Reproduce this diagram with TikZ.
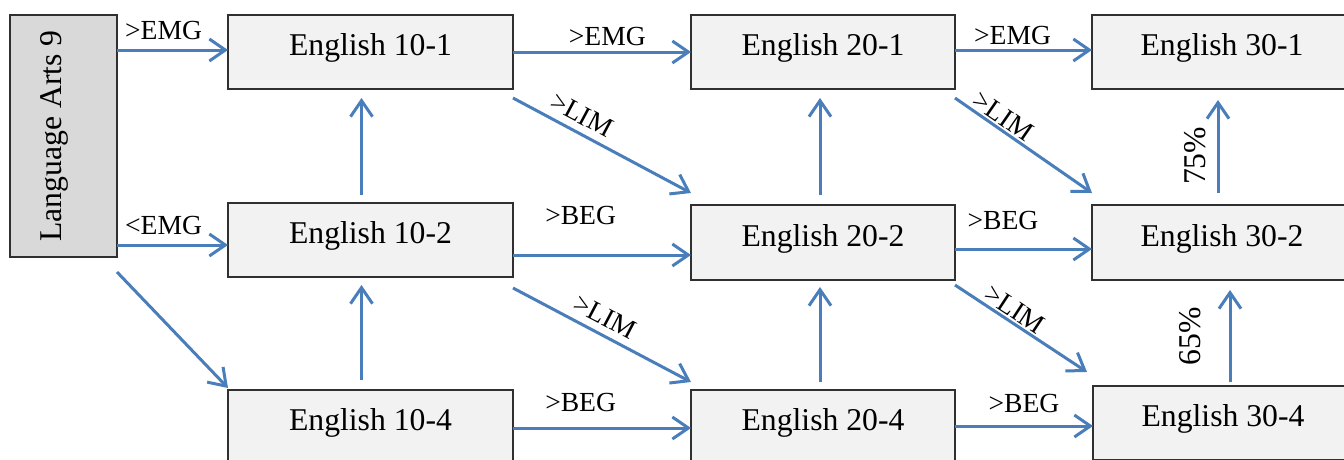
\documentclass[tikz,border=0pt]{standalone}
\usepackage{fontspec}
\setmainfont{Liberation Serif}
\usetikzlibrary{arrows.meta,calc}
\definecolor{arr}{HTML}{4A7EBB}
\definecolor{boxfill}{HTML}{F2F2F2}
\definecolor{lafill}{HTML}{D9D9D9}
\definecolor{boxline}{HTML}{303030}
\begin{document}
\begin{tikzpicture}[x=1pt,y=-1pt,
  box/.style={draw=boxline,line width=1.3pt,fill=boxfill,rectangle,anchor=north west,
    inner sep=0pt,outer sep=0pt,text height=22pt,text depth=15pt,font=\fontsize{31.7}{36}\selectfont},
  conn/.style={draw=arr,line width=3pt,-{Straight Barb[length=16pt,width=22pt,line width=3pt]}},
  lbl/.style={inner sep=0pt,font=\fontsize{27.6}{30}\selectfont},
  pct/.style={font=\fontsize{31.7}{36}\selectfont,rotate=90,anchor=south}]
\useasboundingbox (0,0) rectangle (1344,459);
\clip (0,0) rectangle (1344,459);
% nodes
\node[box,fill=lafill,minimum width=107pt,minimum height=242pt,text height=0pt,text depth=0pt] (la) at (10,15) {};
\node[rotate=90,inner sep=0pt,font=\fontsize{31.7}{36}\selectfont] (latxt) at (54,136) {Language Arts 9};
\node[box,minimum width=285pt,minimum height=74pt] (e101) at (228,15) {English 10-1};
\node[box,minimum width=264pt,minimum height=74pt] (e201) at (691,15) {English 20-1};
\node[box,minimum width=260pt,minimum height=74pt] (e301) at (1092,15) {English 30-1};
\node[box,minimum width=285pt,minimum height=74pt] (e102) at (228,203) {English 10-2};
\node[box,minimum width=264pt,minimum height=75pt] (e202) at (691,205) {English 20-2};
\node[box,minimum width=260pt,minimum height=75pt] (e302) at (1092,205) {English 30-2};
\node[box,minimum width=285pt,minimum height=74pt] (e104) at (228,390) {English 10-4};
\node[box,minimum width=264pt,minimum height=74pt] (e204) at (691,390) {English 20-4};
\node[box,minimum width=260pt,minimum height=74pt] (e304) at (1093,386) {English 30-4};
% connector start points
\coordinate (a1) at ($(la.north east)+(0,35)$);
\coordinate (a2) at ($(la.north east)+(0,230)$);
\coordinate (b1) at ($(e101.north east)+(0,37)$);
\coordinate (b2) at ($(e102.north east)+(0,52)$);
\coordinate (b3) at ($(e104.north east)+(0,38)$);
\coordinate (c1) at ($(e201.north east)+(0,35)$);
\coordinate (c2) at ($(e202.north east)+(0,44)$);
\coordinate (c3) at ($(e204.north east)+(0,36)$);
\coordinate (v1) at ($(e102.north)+(-9,-8)$);
\coordinate (v2) at ($(e104.north)+(-9,-10)$);
\coordinate (v3) at ($(e202.north)+(-3,-10)$);
\coordinate (v4) at ($(e204.north)+(-3,-8)$);
\coordinate (v5) at ($(e302.north west)+(126,-12)$);
\coordinate (v6) at ($(e304.north west)+(137,-4)$);
% horizontal connectors
\draw[conn] (a1) -- node[lbl,pos=0.42,yshift=20pt]{>EMG} (a1 -| e101.west);
\draw[conn] (a2) -- node[lbl,pos=0.42,yshift=20pt]{<EMG} (a2 -| e102.west);
\draw[conn] (b1) -- node[lbl,pos=0.53,yshift=16pt]{>EMG} (b1 -| e201.west);
\draw[conn] (b2) -- node[lbl,pos=0.38,yshift=40pt]{>BEG} (b2 -| e202.west);
\draw[conn] (b3) -- node[lbl,pos=0.38,yshift=26pt]{>BEG} (b3 -| e204.west);
\draw[conn] (c1) -- node[lbl,pos=0.42,yshift=15pt]{>EMG} (c1 -| e301.west);
\draw[conn] (c2) -- node[lbl,pos=0.35,yshift=29pt]{>BEG} (c2 -| e302.west);
\draw[conn] (c3) -- node[lbl,pos=0.5,yshift=23pt]{>BEG} (c3 -| e304.west);
% vertical connectors
\draw[conn] (v1) -- ($(v1 |- e101.south)+(0,9)$);
\draw[conn] (v2) -- ($(v2 |- e102.south)+(0,8)$);
\draw[conn] (v3) -- ($(v3 |- e201.south)+(0,9)$);
\draw[conn] (v4) -- ($(v4 |- e202.south)+(0,7)$);
\draw[conn] (v5) -- node[pct,pos=0.4,inner sep=11pt]{75\%} ($(v5 |- e301.south)+(0,11)$);
\draw[conn] (v6) -- node[pct,pos=0.5,inner sep=28pt]{65\%} ($(v6 |- e302.south)+(0,10)$);
% diagonal connectors
\draw[conn] ($(la.south east)+(0,15)$) -- ($(e104.north west)+(0,-2)$);
\draw[conn] ($(e101.south east)+(0,9)$) -- node[lbl,sloped,pos=0.34,above=7pt]{>LIM} ($(e202.north west)+(0,-12)$);
\draw[conn] ($(e102.south east)+(0,11)$) -- node[lbl,sloped,pos=0.47,above=7pt]{>LIM} ($(e204.north west)+(0,-8)$);
\draw[conn] ($(e201.south east)+(0,9)$) -- node[lbl,sloped,pos=0.3,above=2pt]{>LIM} ($(e302.north west)+(0,-12)$);
\draw[conn] ($(e202.south east)+(0,5)$) -- node[lbl,sloped,pos=0.4,above=2pt]{>LIM} ($(e304.north west)+(-6,-14)$);
\end{tikzpicture}
\end{document}
